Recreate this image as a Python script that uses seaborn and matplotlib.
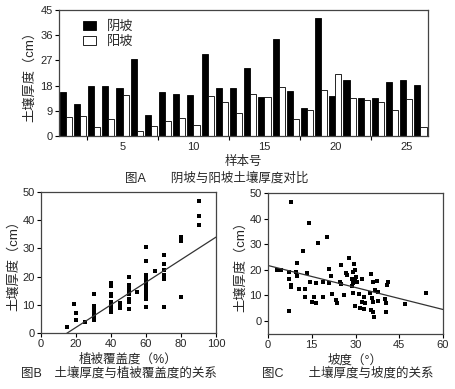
import numpy as np
import pandas as pd
import matplotlib
matplotlib.use("Agg")
import matplotlib.pyplot as plt
import seaborn as sns

# 图A 数据
samples = list(range(1, 27))
shady = [15.8, 11.3, 17.7, 17.7, 17.0, 27.5, 7.5, 15.7, 14.9, 14.6, 29.3, 17.0, 17.0,
         24.4, 13.9, 34.6, 16.1, 9.9, 42.1, 14.3, 20.1, 13.6, 13.6, 19.4, 20.0, 18.3]
sunny = [6.9, 7.1, 3.2, 6.2, 14.6, 1.7, 3.5, 5.2, 6.4, 3.8, 14.2, 12.3, 8.2,
         14.9, 13.9, 17.4, 6.1, 9.2, 16.4, 22.0, 13.6, 12.7, 12.3, 9.2, 13.3, 3.3]

# 图B 数据
cover = [15, 19, 20, 20, 25,
         30, 30, 30, 30, 30, 30, 30,
         40, 40, 40, 40, 40, 40, 40, 40, 40,
         45, 45, 45,
         50, 50, 50, 50, 50, 50, 50, 50,
         55,
         60, 60, 60, 60, 60, 60, 60, 60, 60, 60, 60, 60, 60,
         65,
         70, 70, 70, 70, 70, 70,
         80, 80, 80,
         90, 90, 90]
thick_b = [2.3, 10.2, 7.2, 4.6, 4.0,
           14.0, 9.6, 8.0, 7.0, 6.0, 5.0, 4.6,
           17.8, 16.6, 13.8, 13.0, 11.0, 10.3, 9.3, 8.2, 7.5,
           10.8, 9.8, 8.8,
           20.0, 17.0, 16.0, 15.0, 14.0, 12.0, 11.0, 8.6,
           14.6,
           30.5, 25.5, 20.5, 19.5, 18.5, 17.5, 16.5, 15.5, 14.5, 13.5, 12.5, 12.0, 9.3,
           22.0,
           27.5, 24.3, 22.3, 20.5, 19.3, 9.2,
           34.0, 32.8, 12.7,
           46.8, 41.6, 38.3]
fit_b = (0.40, -6.0)   # 斜率, 截距

# 图C 数据
slope = [8.0, 13.9, 17.3, 20.2, 11.9, 9.8, 3.0, 4.6, 7.1, 9.6, 9.8, 13.3, 7.1, 8.0,
         8.0, 10.5, 12.6, 14.4, 16.3, 12.7, 15.8, 15.0, 16.5, 18.8, 7.3,
         19.0, 20.8, 21.0, 21.6, 22.0, 23.3, 23.8, 24.7, 25.1, 25.0, 26.0, 26.7,
         27.0, 27.8, 28.7, 28.9, 29.0, 29.2, 29.6, 29.8, 29.0, 29.8, 30.2, 30.6,
         31.3, 29.8, 31.5, 32.1, 32.1, 32.9, 32.9, 33.4, 35.0, 35.2, 35.3, 35.5,
         35.9, 36.1, 36.1, 36.3, 36.7, 37.3, 37.6, 37.8, 40.1, 40.5, 40.5, 40.9,
         41.3, 47.1, 54.2]
thick_c = [46.7, 38.4, 30.4, 32.8, 27.4, 22.7, 20.0, 20.0, 19.0, 19.3, 17.5, 18.9, 16.6, 14.2,
           13.4, 12.4, 12.4, 15.2, 14.8, 9.3, 9.3, 7.6, 6.9, 9.3, 4.0,
           15.4, 20.4, 14.8, 17.6, 10.6, 8.0, 7.2, 15.4, 14.5, 21.7, 10.2, 18.7,
           18.0, 24.5, 16.5, 13.8, 19.3, 14.8, 22.2, 20.0, 10.8, 16.1, 17.1, 15.4,
           10.6, 5.9, 5.0, 16.3, 7.3, 9.3, 4.6, 7.2, 11.1, 4.3, 18.3, 9.1,
           7.6, 15.2, 3.6, 1.7, 12.1, 15.8, 7.8, 11.5, 8.6, 7.2, 3.3, 14.1,
           15.4, 6.5, 11.1]
fit_c = (-0.287, 21.7)

sns.set_style("ticks")
plt.rcParams['font.family'] = ['Liberation Sans', 'Noto Sans CJK SC', 'DejaVu Sans']
plt.rcParams['axes.unicode_minus'] = False

fig = plt.figure(figsize=(4.56, 3.89), dpi=100)
frame_col = '#444444'
fs_tick = 8
fs_lab = 9
fs_ylab = 9.5


def style_axes(ax):
    for s in ax.spines.values():
        s.set_color(frame_col)
        s.set_linewidth(0.9)
    ax.tick_params(direction='out', length=3, width=0.8, color='black',
                   labelsize=fs_tick, pad=1.5)


# ---- 图A ----
axA = fig.add_axes([59 / 456, 1 - 136 / 389, 369 / 456, 126 / 389])
dfA = pd.DataFrame({'样本号': samples * 2,
                    '厚度': shady + sunny,
                    '坡向': ['阴坡'] * 26 + ['阳坡'] * 26})
sns.barplot(data=dfA, x='样本号', y='厚度', hue='坡向', palette=['black', 'white'],
            edgecolor='black', linewidth=0.6, width=0.86, ax=axA, errorbar=None)
axA.set_xlim(-0.48, 25.53)
axA.set_ylim(0, 45)
axA.set_yticks(np.arange(0, 46, 9))
axA.set_xticks([4, 9, 14, 19, 24])
axA.set_xticklabels(['5', '10', '15', '20', '25'])
axA.set_xticks([1.5, 6.5, 11.5, 16.5, 21.5], minor=True)
style_axes(axA)
axA.tick_params(axis='x', which='major', length=0, pad=4)
axA.tick_params(axis='x', which='minor', length=3, width=0.8, color='black', direction='out')
axA.set_xlabel('样本号', fontsize=fs_lab, labelpad=3)
axA.set_ylabel('土壤厚度（cm）', fontsize=fs_ylab, labelpad=3)
axA.legend(loc='upper left', frameon=False, fontsize=fs_ylab, handlelength=1.0,
           handleheight=0.7, borderaxespad=0.3, labelspacing=0.25,
           bbox_to_anchor=(0.04, 0.99))
fig.text(217 / 456, 1 - 178 / 389, '图A　　阴坡与阳坡土壤厚度对比', ha='center', va='center',
         fontsize=fs_lab)

# ---- 图B ----
axB = fig.add_axes([41 / 456, 1 - 333 / 389, 175 / 456, 141 / 389])
sns.scatterplot(x=cover, y=thick_b, marker='s', color='black', s=12, linewidth=0, ax=axB)
xb = np.array([0, 100])
axB.plot(xb, fit_b[0] * xb + fit_b[1], color='#333333', lw=0.9)
axB.set_xlim(0, 100)
axB.set_ylim(0, 50)
axB.set_xticks(np.arange(0, 101, 20))
axB.set_yticks(np.arange(0, 51, 10))
style_axes(axB)
axB.set_xlabel('植被覆盖度（%）', fontsize=fs_lab, labelpad=3)
axB.set_ylabel('土壤厚度（cm）', fontsize=fs_ylab, labelpad=2)
fig.text(119 / 456, 1 - 373 / 389, '图B　土壤厚度与植被覆盖度的关系', ha='center', va='center',
         fontsize=fs_lab)

# ---- 图C ----
axC = fig.add_axes([268 / 456, 1 - 333.7 / 389, 175 / 456, 140.5 / 389])
sns.scatterplot(x=slope, y=thick_c, marker='s', color='black', s=12, linewidth=0, ax=axC)
xc = np.array([0, 60])
axC.plot(xc, fit_c[0] * xc + fit_c[1], color='#333333', lw=0.9)
axC.set_xlim(0, 60)
axC.set_ylim(-5, 50)
axC.set_xticks(np.arange(0, 61, 15))
axC.set_yticks(np.arange(0, 51, 10))
style_axes(axC)
axC.set_xlabel('坡度（°）', fontsize=fs_lab, labelpad=3)
axC.set_ylabel('土壤厚度（cm）', fontsize=fs_ylab, labelpad=2)
fig.text(348 / 456, 1 - 373 / 389, '图C　　土壤厚度与坡度的关系', ha='center', va='center',
         fontsize=fs_lab)

fig.savefig('out.png', dpi=100)
